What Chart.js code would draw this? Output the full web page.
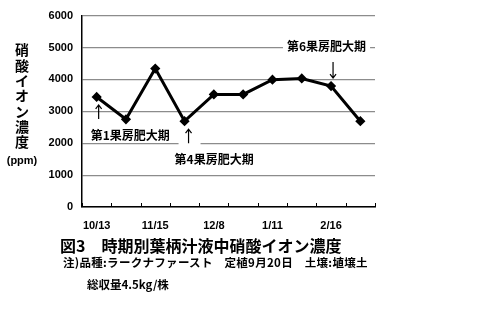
<!DOCTYPE html>
<html>
<head>
<meta charset="utf-8">
<script src="https://cdn.jsdelivr.net/npm/chart.js"></script>
<style>
  body { margin: 0; background: #fff; }
  #wrap { position: relative; width: 500px; height: 311px; }
  .cap { position: absolute; font-family: "Noto Sans CJK JP", sans-serif; font-weight: bold; color: #000; white-space: pre; line-height: 1; }
</style>
</head>
<body>
<div id="wrap">
  <canvas id="demo-chart" width="500" height="311"></canvas>
  <div class="cap" style="left:60px; top:237px; font-size:16px;">図3　時期別葉柄汁液中硝酸イオン濃度</div>
  <div class="cap" style="left:63px; top:257px; font-size:11.5px; letter-spacing:0.3px;">注)品種:ラークナファースト　定植9月20日　土壌:埴壌土</div>
  <div class="cap" style="left:87px; top:279px; font-size:11.5px;">総収量4.5kg/株</div>
</div>
<script>
var dates = ['10/13', '', '11/15', '', '12/8', '', '1/11', '', '2/16', ''];
var nitrate = [3450, 2750, 4340, 2690, 3530, 3530, 3990, 4030, 3790, 2690];
var yTicks = [0, 1000, 2000, 3000, 4000, 5000, 6000];

// arrows for fruit-cluster growth stages
var stages = [
    { idx: 0, text: '第1果房肥大期', dir: 'up' },
    { idx: 3, text: '第4果房肥大期', dir: 'up' },
    { idx: 8, text: '第6果房肥大期', dir: 'down' }
];

var jpFont = '"Noto Sans CJK JP", sans-serif';
var labelOffsets = [
    { tx: -6, ty: 38 },
    { tx: -10, ty: 38 },
    { tx: 0, ty: -40 }
];

function stageLayout(chart) {
    var ctx = chart.ctx;
    var x = chart.scales.x, y = chart.scales.y;
    ctx.save();
    ctx.font = 'bold 12px ' + jpFont;
    var out = stages.map(function (s, k) {
        var p = labelOffsets[k];
        var px = x.getPixelForValue(s.idx);
        var py = y.getPixelForValue(nitrate[s.idx]);
        var w = ctx.measureText(s.text).width;
        var tx = s.dir === 'down' ? px - w + 35 : px + p.tx;
        return { s: s, k: k, px: px, py: py, w: w, tx: tx, ty: py + p.ty, ax: px + (k === 1 ? 4 : 2) };
    });
    ctx.restore();
    return out;
}

var extras = {
    id: 'extras',
    beforeDatasetsDraw: function (chart) {
        // white boxes behind labels so gridlines break around them
        var ctx = chart.ctx;
        ctx.save();
        ctx.fillStyle = '#fff';
        stageLayout(chart).forEach(function (L) {
            ctx.fillRect(L.tx - 4, L.ty - 8, L.w + 8, 14);
            if (L.k === 1) ctx.fillRect(L.ax - 10, L.py + 6, 22, 20);
        });
        ctx.restore();
    },
    afterDraw: function (chart) {
        var ctx = chart.ctx;
        var x = chart.scales.x;
        var area = chart.chartArea;
        ctx.save();

        // inward tick marks on the x axis at category boundaries
        var step = x.getPixelForValue(1) - x.getPixelForValue(0);
        ctx.strokeStyle = '#000';
        ctx.lineWidth = 1;
        for (var i = 0; i <= dates.length; i++) {
            var px = Math.round(x.getPixelForValue(0) - step / 2 + i * step) + 0.5;
            ctx.beginPath();
            ctx.moveTo(px, area.bottom);
            ctx.lineTo(px, area.bottom - 4);
            ctx.stroke();
        }

        // stage labels and arrows
        ctx.font = 'bold 12px ' + jpFont;
        ctx.textBaseline = 'middle';
        ctx.textAlign = 'left';
        ctx.fillStyle = '#000';
        stageLayout(chart).forEach(function (L) {
            ctx.fillText(L.s.text, L.tx, L.ty);
            ctx.lineWidth = 1.2;
            ctx.beginPath();
            var ax = L.ax, py = L.py;
            if (L.s.dir === 'up') {
                var y0 = py + 8, y1 = py + 22;
                ctx.moveTo(ax, y1); ctx.lineTo(ax, y0);
                ctx.moveTo(ax - 3, y0 + 4); ctx.lineTo(ax, y0); ctx.lineTo(ax + 3, y0 + 4);
            } else {
                var y0d = py - 24, y1d = py - 8;
                ctx.moveTo(ax, y0d); ctx.lineTo(ax, y1d);
                ctx.moveTo(ax - 3, y1d - 4); ctx.lineTo(ax, y1d); ctx.lineTo(ax + 3, y1d - 4);
            }
            ctx.stroke();
        });

        // vertical y axis title
        ctx.font = 'bold 14px ' + jpFont;
        ctx.textAlign = 'center';
        var title = '硝酸イオン濃度';
        for (var j = 0; j < title.length; j++) {
            ctx.fillText(title[j], 22, 50 + j * 15.3);
        }
        ctx.font = 'bold 11px "Liberation Sans", sans-serif';
        ctx.fillText('(ppm)', 22, 161);
        ctx.restore();
    }
};

new Chart(document.getElementById('demo-chart'), {
    type: 'line',
    data: {
        labels: dates,
        datasets: [{
            data: nitrate,
            borderColor: '#000',
            backgroundColor: '#000',
            borderWidth: 3,
            pointStyle: 'rectRot',
            pointRadius: 3,
            tension: 0
        }]
    },
    options: {
        responsive: false,
        animation: false,
        layout: { padding: { top: 15, right: 125, bottom: 74, left: 0 } },
        plugins: { legend: { display: false }, tooltip: { enabled: false } },
        scales: {
            x: {
                offset: true,
                grid: { display: false },
                border: { color: '#000', width: 1.5 },
                ticks: {
                    autoSkip: false, maxRotation: 0, color: '#000', padding: 4,
                    font: { family: '"Liberation Sans", sans-serif', size: 11, weight: 'bold' }
                },
                afterFit: function (s) { s.height = 30; }
            },
            y: {
                min: 0, max: 6000,
                afterBuildTicks: function (s) { s.ticks = yTicks.map(function (v) { return { value: v }; }); },
                grid: { color: '#8c8c8c', lineWidth: 1.2, drawTicks: false },
                border: { color: '#000', width: 1.5 },
                ticks: {
                    color: '#000', padding: 9,
                    callback: function (v) { return String(v); },
                    font: { family: '"Liberation Sans", sans-serif', size: 11, weight: 'bold' }
                },
                afterFit: function (s) { s.width = 82; }
            }
        }
    },
    plugins: [extras]
});
</script>
</body>
</html>
